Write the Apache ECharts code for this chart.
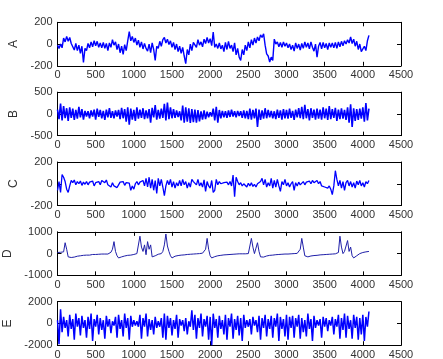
<!DOCTYPE html>
<html>
<head>
<meta charset="utf-8">
<script src="https://cdn.jsdelivr.net/npm/echarts@6/dist/echarts.min.js"></script>
<style>
  html, body { margin: 0; padding: 0; background: #fff; }
  #chart { width: 443px; height: 359px; }
</style>
</head>
<body>
<div id="chart"></div>
<script>
// one value every 20 samples
var STEP = 20;
var names = ['A', 'B', 'C', 'D', 'E'];
var yLimits = [200, 500, 200, 1000, 2000];

var sigA = [
  -10, -40, 0, -35, 55, 20, 70, 25, 60, 5,
  10, -55, 5, -60, -10, -85, -20, -170, -40, -60,
  5, -35, 20, -25, 30, -15, 25, -30, 10, -35,
  15, -40, 5, -60, 10, -30, 40, -10, 20, -50,
  0, -80, -20, -95, -5, -60, 30, 115, 30, 70,
  15, 55, -10, 35, -30, 20, -45, 5, -40, -65,
  0, -80, 10, -50, -150, -20, -40, 25, -20, 40,
  60, 10, 45, -5, 30, -30, 15, -50, 0, -70,
  -20, -85, -30, -110, -180, -50, -100, 0, -60, 15,
  25, -30, 40, -10, 20, -25, 45, 5, 60, 10,
  50, -15, 110, -30, 0, -40, 10, -45, -10, -70,
  15, -50, 25, -40, -10, -70, 10, -100, -40, -120,
  -150, -50, -100, -10, -60, 20, -35, 40, -10, 55,
  10, 65, 30, 85, 60, 95, -10, -90, -110, -165,
  -120, -150, 45, 0, 20, -25, 15, -30, 20, -20,
  10, -35, 0, -50, -10, -65, 10, -40, 0, -55,
  5, -40, 20, -30, 10, -45, 20, -30, -65, 0,
  -120, -20, 15, -45, 15, -35, 5, -50, 10, -30,
  10, -35, 15, -40, 20, -25, 25, -15, 30, 0,
  40, 10, 65, 5, 45, -20, 25, -50, 0, -70,
  -80, -20, -60, 30, 80
];

var sigB = [
  100, -120, 240, -150, 180, -100, 130, -160, 150, -90,
  120, -140, 90, -110, 160, -80, 110, -130, 70, -60,
  60, -100, 80, -60, 100, -130, 120, -70, 90, -100,
  70, -140, 100, -80, 130, -90, 60, -100, 80, -60,
  90, -120, 140, -100, 110, -180, 150, -250, 120, -130,
  90, -160, 150, -110, 100, -90, 130, -120, 80, -100,
  110, -200, 140, -80, 200, -130, 90, -110, 120, -90,
  230, -150, 260, -120, 150, -100, 110, -90, 80, -70,
  60, -150, 190, -200, 150, -180, 130, -210, 110, -190,
  100, -200, 90, -170, 60, -130, 80, -120, 50, -80,
  40, -60, 120, -150, 160, -200, 90, -100, 70, -80,
  60, -90, 80, -70, 100, -60, 60, -80, 70, -50,
  60, -90, 80, -100, 70, -120, 120, -130, 90, -100,
  120, -300, 100, -140, 80, -110, 130, -100, 90, -80,
  70, -100, 60, -120, 100, -90, 80, -130, 110, -100,
  90, -110, 120, -90, 70, -140, 100, -80, 130, -100,
  160, -120, 210, -100, 110, -150, 130, -90, 100, -130,
  120, -110, 100, -130, 150, -100, 120, -140, 180, -120,
  110, -90, 140, -160, 100, -120, 130, -110, 90, -140,
  150, -200, 220, -300, 130, -160, 110, -140, 120, -110,
  150, -180, 250, -150, 120
];

var sigC = [
  -60, 20, -80, 85, 60, 20, -50, -80, -20, 30,
  10, 35, -10, 20, 0, 25, -15, 15, -5, 20,
  -10, 15, 5, 25, -20, 10, 0, 20, -10, 30,
  40, 10, 35, -10, 0, -30, 10, -20, -5, -35,
  -10, 15, 0, 20, -15, 10, 25, 5, -60, -20,
  -50, 0, 20, -10, 15, 0, 30, -20, 50, -30,
  60, -40, 40, -60, 30, -90, 50, -20, 40, -30,
  -110, -20, 30, -10, 40, -30, 20, -40, 10, -20,
  30, -20, 40, -10, 20, -40, 10, -30, 40, 20,
  30, -10, 40, -20, 10, -30, 35, -70, 20, -20,
  -40, 30, -80, -60, 40, -10, 20, 0, -15, 10,
  0, 15, -10, 20, -20, 80, -120, 60, 20, -10,
  10, -20, 0, -15, -30, 5, -20, 10, -25, -5,
  -30, 0, -10, 20, 50, -10, 40, -30, 10, -20,
  50, -40, 30, -30, 40, -20, -70, 20, -10, 40,
  -20, 10, -30, 0, 20, -60, 10, -20, 15, -10,
  0, 20, -10, 15, 5, 25, 0, 30, 10, 20,
  30, 0, 20, -20, -10, -30, -20, -40, -20, -50,
  -100, -20, 120, 40, -20, 30, -40, 20, -60, 10,
  30, -20, 20, -30, 10, -40, 25, -10, 30, -20,
  10, -30, 20, 0, 30
];

var sigD = [
  50, 30, 60, 50, 80, 500, 200, -150, -200, -180,
  -190, -160, -150, -120, -110, -100, -90, -80, -70, -70,
  -60, -70, -50, -40, -60, -40, -50, -30, -40, -20,
  -30, -20, -10, -20, 0, 60, 200, 550, 100, -100,
  -200, -180, -150, -120, -110, -90, -80, -60, -70, -50,
  -40, -30, 0, 50, 800, 300, 100, 400, -50, 550,
  200, 400, -150, -200, -100, -50, -30, -10, 0, 100,
  400, 900, 350, 100, -100, -200, -150, -120, -100, -90,
  -80, -70, -60, -60, -50, -40, -40, -30, -30, -20,
  -20, -10, -10, 0, 0, 20, 50, 200, 700, 200,
  -100, -200, -170, -140, -120, -100, -90, -80, -70, -60,
  -60, -50, -50, -40, -40, -30, -30, -20, -20, -10,
  -20, -10, -10, -10, 0, 0, 20, 700, 300, 0,
  250, 500, 100, -150, -200, -160, -140, -110, -100, -80,
  -70, -70, -60, -50, -50, -40, -40, -30, -30, -20,
  -30, -20, -20, -10, -10, 0, 0, 10, 60, 200,
  700, 300, -100, -180, -150, -130, -110, -100, -90, -80,
  -80, -70, -60, -60, -50, -50, -40, -40, -30, -30,
  -20, -20, -10, 0, 50, 800, 300, 0, 100, 150,
  600, 100, 300, -100, -200, -150, -100, -50, 0, 30,
  50, 100, 80, 120, 100
];

var sigE = [
  300, -1900, 1300, -800, 600, -400, 300, -1200, 800, -500,
  400, -1500, 900, -300, 500, -1100, 700, -400, 300, -1300,
  600, -500, 900, -1600, 400, -300, 800, -1000, 500, -600,
  300, -1400, 700, -300, 400, -900, 200, -200, 600, -1300,
  800, -500, 300, -1200, 900, -400, 500, -1500, 700, -300,
  300, -200, 200, -300, 800, -1400, 500, -300, 900, -1200,
  400, -600, 300, -1000, 600, -400, 200, -300, 500, -1300,
  900, -1500, 700, -400, 500, -1100, 300, -500, 800, -1300,
  400, -200, 300, -700, 500, -1000, 200, -300, 1200, -600,
  800, -1400, 500, -400, 900, -1200, 400, -300, 700, -1500,
  600, -2000, 900, -400, 400, -1300, 700, -500, 300, -1000,
  800, -1500, 500, -300, 900, -1400, 400, -600, 700, -1100,
  500, -1600, 800, -400, 300, -300, 400, -1000, 600, -200,
  300, -800, 700, -1500, 500, -400, 800, -1200, 400, -500,
  700, -1300, 500, -300, 900, -1600, 600, -500, 400, -1200,
  800, -1500, 600, -400, 700, -1300, 500, -300, 800, -1400,
  500, -800, 300, -1200, 900, -500, 400, -1600, 700, -400,
  300, -200, 400, -1300, 600, -300, 500, -700, 300, -200,
  600, -1000, 400, -300, 800, -1400, 500, -600, 900, -1300,
  700, -500, 300, -1400, 800, -400, 600, -1500, 500, -1000,
  800, -1600, 600, -300, 1100
];

var signals = [sigA, sigB, sigC, sigD, sigE];

var myChart = echarts.init(document.getElementById('chart'), null, { renderer: 'canvas' });

var grids = [], xAxes = [], yAxes = [], series = [];
var labelFont = { color: '#333', fontSize: 11, fontFamily: 'Liberation Sans' };
var boxLine = { show: true, onZero: false, lineStyle: { color: '#000', width: 1 } };
var inTick = { show: true, inside: true, length: 4, lineStyle: { color: '#000' } };
var widths = [1.4, 1.6, 1.3, 1, 1.5];

names.forEach(function (nm, i) {
  var lim = yLimits[i];
  grids.push({
    left: 57.5, width: 343.5,
    top: 22.3 + i * 69.85, height: 43.5,
    outerBoundsMode: 'none', containLabel: false
  });
  // bottom axis with labels
  xAxes.push({
    gridIndex: i, type: 'value', position: 'bottom',
    min: 0, max: 4500, interval: 500,
    axisLine: boxLine, axisTick: inTick, splitLine: { show: false },
    axisLabel: Object.assign({ margin: 4, formatter: function (v) { return String(v); } }, labelFont)
  });
  // top edge of the box
  xAxes.push({
    gridIndex: i, type: 'value', position: 'top',
    min: 0, max: 4500, interval: 500,
    axisLine: boxLine, axisTick: inTick, splitLine: { show: false },
    axisLabel: { show: false }
  });
  yAxes.push({
    gridIndex: i, type: 'value', position: 'left',
    min: -lim, max: lim, interval: lim,
    name: nm, nameLocation: 'middle', nameGap: 33, nameRotate: 90,
    nameTextStyle: { color: '#333', fontSize: 12, fontFamily: 'Liberation Sans' },
    axisLine: boxLine, axisTick: inTick, splitLine: { show: false },
    axisLabel: Object.assign({ margin: 5, formatter: function (v) { return String(v); } }, labelFont)
  });
  yAxes.push({
    gridIndex: i, type: 'value', position: 'right',
    min: -lim, max: lim, interval: lim,
    axisLine: boxLine, axisTick: inTick, splitLine: { show: false },
    axisLabel: { show: false }
  });
  series.push({
    type: 'line',
    xAxisIndex: i * 2, yAxisIndex: i * 2,
    showSymbol: false, symbol: 'none',
    lineStyle: { color: i === 3 ? '#1f1fa8' : '#0000ff', width: widths[i] },
    data: signals[i].map(function (v, k) { return [k * STEP, v]; })
  });
});

var option = {
  animation: false,
  backgroundColor: '#fff',
  grid: grids,
  xAxis: xAxes,
  yAxis: yAxes,
  series: series
};
myChart.setOption(option);
</script>
</body>
</html>
